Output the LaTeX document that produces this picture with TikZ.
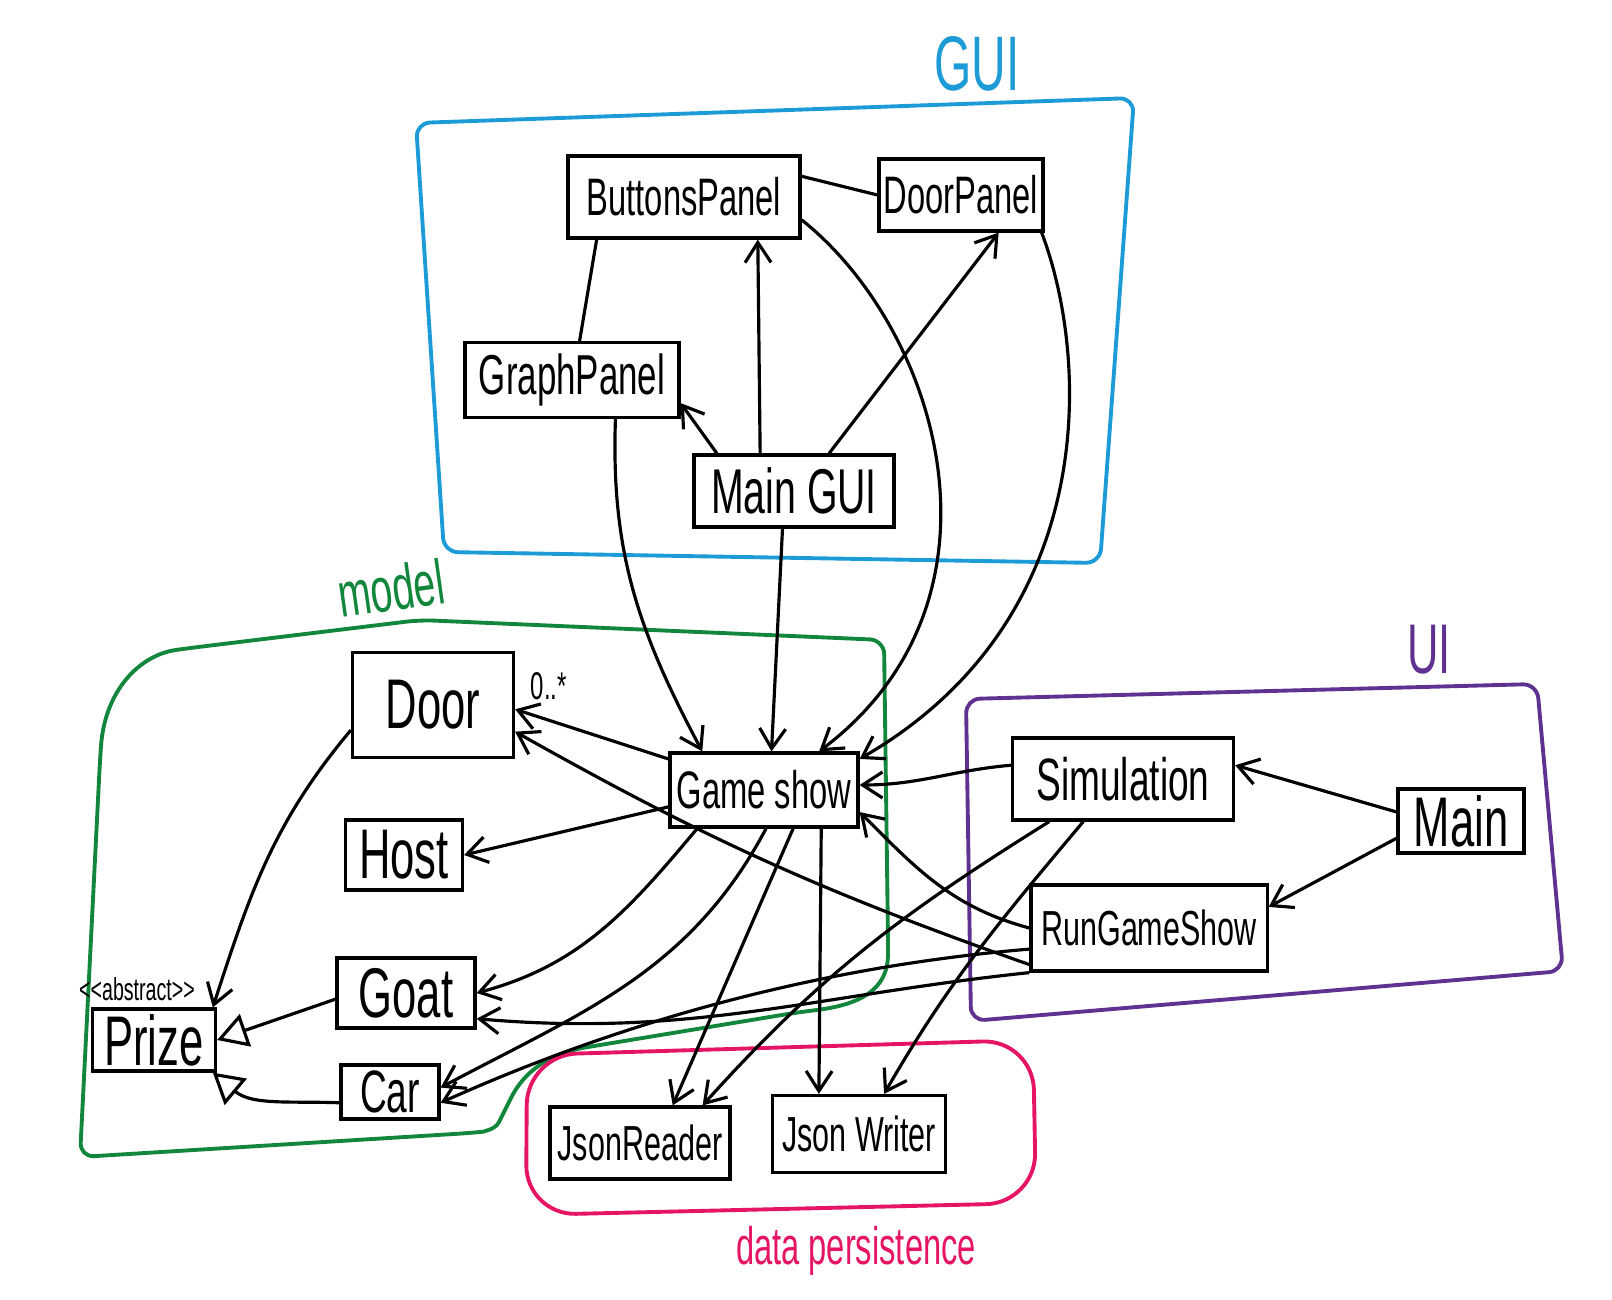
\documentclass[tikz,border=0pt]{standalone}
\usepackage{fontspec}
\newfontfamily\handfont{Liberation Sans}[FakeStretch=0.62]
\newcommand{\hsz}[1]{\handfont\fontsize{#1}{#1}\selectfont}
\usetikzlibrary{arrows.meta}
\definecolor{guiblue}{RGB}{29,155,215}
\definecolor{modelgreen}{RGB}{18,135,60}
\definecolor{uipurple}{RGB}{95,50,145}
\definecolor{dppink}{RGB}{230,20,100}
\begin{document}
\begin{tikzpicture}[x=0.01cm,y=0.01cm,line width=0.9pt,
  cls/.style={draw,inner sep=0pt,font=\hsz{15}},
  big/.style={font=\hsz{20}},
  dep/.style={-{Straight Barb[length=0.2cm,width=0.26cm]}},
  inh/.style={-{Triangle[open,length=0.3cm,width=0.34cm]}},
  grp/.style={line width=1.1pt,rounded corners=4pt}]
\useasboundingbox (0,0) rectangle (1612,-1300);
% packages
\draw[grp,guiblue] (416,-123) -- (1134,-98) -- (1100,-563) -- (444,-552) -- cycle;
\draw[grp,modelgreen] (884,-640) -- (888,-940) .. controls (888,-990) and (860,-1005) .. (800,-1012)
  -- (600,-1045) .. controls (540,-1055) and (520,-1080) .. (505,-1110)
  .. controls (495,-1130) and (480,-1132) .. (470,-1133) -- (80,-1157) -- (100,-760)
  .. controls (105,-690) and (140,-655) .. (190,-648) -- (420,-620) -- cycle;
\draw[grp,uipurple] (966,-699) -- (1537,-684) -- (1563,-971) -- (971,-1021) -- cycle;
\draw[grp,dppink,rounded corners=0.5cm] (526,-1215) -- (527,-1055) -- (1033,-1040) -- (1036,-1203) -- cycle;
\node[text=guiblue,font=\hsz{22}] (guilbl) at (977,-64) {GUI};
\node[text=modelgreen,font=\hsz{18},rotate=8] (modellbl) at (391,-588) {model};
\node[text=uipurple,font=\hsz{20}] (uilbl) at (1429,-650) {UI};
\node[text=dppink,font=\hsz{15}] (dplbl) at (856,-1251) {data persistence};
% classes
\node[cls,minimum width=2.32cm,minimum height=0.82cm] (bp) at (684,-197) {ButtonsPanel};
\node[cls,minimum width=1.64cm,minimum height=0.72cm] (dp) at (961,-195) {DoorPanel};
\node[cls,font=\hsz{16},minimum width=2.14cm,minimum height=0.75cm] (gp) at (572,-380) {GraphPanel};
\node[cls,font=\hsz{18},minimum width=2cm,minimum height=0.72cm] (mgui) at (794,-491) {Main GUI};
\node[cls,big,minimum width=1.61cm,minimum height=1.05cm] (door) at (433,-705) {Door};
\node[cls,big,minimum width=1.17cm,minimum height=0.7cm] (host) at (404,-855) {Host};
\node[cls,big,minimum width=1.38cm,minimum height=0.7cm] (goat) at (406,-993) {Goat};
\node[cls,big,minimum width=1.23cm,minimum height=0.62cm] (prize) at (154,-1040) {Prize};
\node[font=\hsz{9}] (abstr) at (137,-989) {<\kern0pt<abstract>\kern0pt>};
\node[cls,font=\hsz{17},minimum width=0.98cm,minimum height=0.54cm] (car) at (390,-1092) {Car};
\node[cls,minimum width=1.88cm,minimum height=0.74cm] (gs) at (764,-790) {Game show};
\node[cls,font=\hsz{17},minimum width=2.21cm,minimum height=0.82cm] (sim) at (1123,-779) {Simulation};
\node[cls,big,minimum width=1.26cm,minimum height=0.64cm] (main) at (1461,-821) {Main};
\node[cls,font=\hsz{14},minimum width=2.36cm,minimum height=0.86cm] (rgs) at (1149,-928) {RunGameShow};
\node[cls,font=\hsz{14},minimum width=1.8cm,minimum height=0.72cm] (jr) at (640,-1143) {JsonReader};
\node[cls,font=\hsz{14},minimum width=1.73cm,minimum height=0.77cm] (jw) at (859,-1134) {Json Writer};
% GUI
\draw (bp.10) -- (dp.west);
\draw (bp.206) -- (gp.79);
\draw[dep] (mgui.154) -- (gp.-12);
\draw[dep] (mgui.132) -- (bp.-30);
\draw[dep] (mgui.47) -- (dp.-45);
\draw[dep] (gp.-42) to[out=-92,in=118] (gs.148);
\draw[dep] (mgui.-107) -- (gs.79);
\draw[dep] (bp.-11) .. controls (940,-330) and (1020,-600) .. (gs.35);
\draw[dep] (dp.-25) .. controls (1090,-360) and (1100,-620) .. (gs.18);
% model
\draw[dep] (gs.162) -- (door.-3) node[pos=0.78,above=2pt,font=\hsz{11}] (mult) {0..*};
\draw[dep] (gs.190) -- (host.east);
\draw[dep] (gs.210) to[out=-130,in=15] (goat.east);
\draw[dep] (gs.-87) to[out=-118,in=28] (car.5);
\draw[dep] (gs.-53) -- (jr.49);
\draw[dep] (gs.-34) -- (jw.135);
\draw[dep] (door.197) to[out=-130,in=72] (prize.29);
\draw[inh] (goat.185) -- (prize.east);
\draw[inh] (car.192) to[out=178,in=-40] (prize.-29);
% UI
\draw[dep] (sim.173) to[out=185,in=0] (gs.3);
\draw[dep] (main.172) -- (sim.7);
\draw[dep] (main.195) -- (rgs.10);
\draw[dep] (rgs.180) to[out=165,in=-45] (gs.-13);
\draw[dep] (rgs.190) .. controls (780,-970) and (580,-1040) .. (car.-12);
\draw[dep] (rgs.197) to[bend left=5] (door.-18);
\draw[dep] (rgs.south west) to[out=186,in=-5] (goat.-20);
\draw[dep] (sim.210) to[out=-148,in=48] (jr.31);
\draw[dep] (sim.227) to[out=-130,in=60] (jw.58);
\end{tikzpicture}
\end{document}
